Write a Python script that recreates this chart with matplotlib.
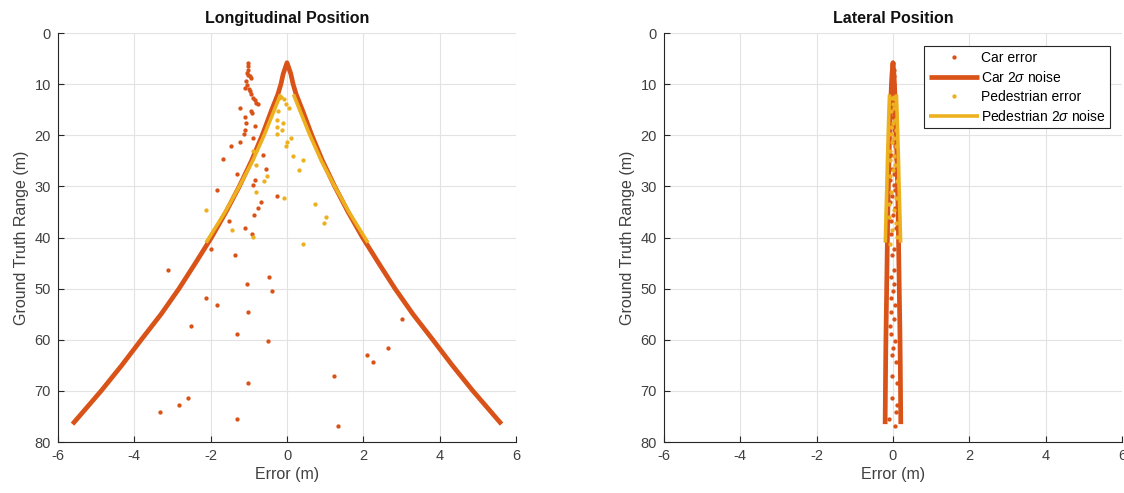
import numpy as np
import matplotlib
matplotlib.use("Agg")
import matplotlib.pyplot as plt

plt.rcParams['font.family'] = ['Liberation Sans', 'DejaVu Sans']
plt.rcParams['mathtext.fontset'] = 'custom'
plt.rcParams['mathtext.rm'] = 'Liberation Sans'
plt.rcParams['mathtext.it'] = 'Liberation Sans:italic'
plt.rcParams['axes.unicode_minus'] = False

CAR = '#D95319'
PED = '#EDB120'

# car detections: ground truth range (m), longitudinal / lateral error (m)
car_range = [5.84, 6.49, 7.14, 7.79, 8.12, 8.44, 8.77, 9.42, 10.07, 10.72,
             11.0, 11.37, 12.01, 12.66, 13.19, 13.64, 13.96, 14.74, 15.26, 15.59,
             16.43, 17.54, 18.25, 19.03, 19.68, 20.46, 21.24, 22.09, 23.84, 24.68,
             26.57, 27.61, 28.65, 29.75, 30.79, 31.90, 33.13, 34.30, 35.54, 36.77,
             38.07, 39.30, 42.2, 43.5, 46.3, 47.7, 49.1, 50.5, 51.9, 53.2,
             54.6, 56.0, 57.4, 58.8, 60.2, 61.6, 63.0, 64.4, 67.1, 68.5,
             71.3, 72.7, 74.1, 75.5, 76.9]
car_long_err = [-1.03, -1.03, -1.01, -1.04, -1.02, -0.98, -0.94, -1.07, -1.04, -1.09,
                -1.00, -0.98, -0.94, -0.90, -0.85, -0.81, -0.77, -1.24, -0.94, -0.92,
                -1.09, -1.07, -0.85, -1.11, -1.13, -0.89, -1.24, -1.46, -0.63, -1.68,
                -0.56, -1.31, -0.83, -0.88, -1.83, -0.26, -0.68, -0.75, -0.87, -1.51,
                -1.09, -0.91, -1.98, -1.36, -3.13, -0.46, -1.05, -0.39, -2.13, -1.84,
                -1.03, 3.00, -2.51, -1.30, -0.51, 2.64, 2.09, 2.24, 1.22, -1.02,
                -2.60, -2.82, -3.33, -1.32, 1.34]
car_lat_err = [0.01, -0.02, 0.02, 0.0, -0.03, 0.03, 0.01, -0.02, 0.04, -0.01,
               0.02, -0.04, 0.03, 0.0, -0.03, 0.05, -0.02, 0.01, -0.05, 0.04,
               -0.01, 0.06, -0.04, 0.02, -0.06, 0.03, 0.0, 0.05, -0.05, 0.07,
               -0.03, 0.02, -0.07, 0.04, 0.06, -0.02, -0.08, 0.05, 0.01, -0.06,
               0.08, -0.04, 0.02, -0.03, 0.04, -0.05, 0.03, 0.0, -0.04, 0.06,
               -0.06, 0.02, -0.07, -0.04, 0.05, 0.0, -0.02, 0.08, -0.03, 0.11,
               -0.03, 0.10, 0.07, -0.10, 0.05]

# pedestrian detections
ped_range = [12.54, 12.67, 13.0, 13.96, 14.74, 15.26, 17.02, 17.60, 18.38, 19.03,
             19.81, 20.53, 21.31, 22.15, 23.06, 23.97, 24.88, 25.86, 26.83, 27.87,
             28.91, 31.18, 32.29, 33.46, 34.69, 35.93, 37.23, 38.59, 39.96, 41.2]
ped_long_err = [-0.16, -0.20, -0.07, -0.03, 0.04, -0.23, -0.26, -0.10, -0.27, -0.13,
                -0.25, 0.10, -0.01, -0.02, -0.90, 0.15, 0.43, -0.81, 0.31, -0.53,
                -0.60, -0.80, -0.09, 0.73, -2.11, 1.02, 0.96, -1.43, -0.88, 0.43]
ped_lat_err = [0.02, -0.03, 0.05, -0.01, 0.03, -0.05, 0.06, 0.0, -0.04, 0.07,
               -0.06, 0.04, -0.02, 0.08, -0.07, 0.03, -0.09, 0.06, 0.01, -0.08,
               0.10, -0.05, 0.09, -0.10, 0.04, -0.11, 0.07, -0.03, 0.11, -0.09]

# 2-sigma noise envelopes
car_sig_range = [5.8, 8, 10, 12, 15, 20, 25, 30, 35, 40, 45, 50, 55, 60, 65, 70, 76.5]
car_long_sig = [0.0, 0.10, 0.16, 0.24, 0.40, 0.65, 0.93, 1.25, 1.60, 1.98, 2.40,
                2.83, 3.30, 3.82, 4.33, 4.87, 5.62]
car_lat_sig = [0.0, 0.025, 0.04, 0.05, 0.065, 0.09, 0.105, 0.12, 0.135, 0.145,
               0.155, 0.165, 0.175, 0.185, 0.192, 0.198, 0.205]
ped_sig_range = [12, 15, 20, 25, 30, 35, 41]
ped_long_sig = [0.17, 0.33, 0.60, 0.90, 1.25, 1.62, 2.12]
ped_lat_sig = [0.09, 0.105, 0.125, 0.145, 0.16, 0.18, 0.20]

xticks = [-6, -4, -2, 0, 2, 4, 6]
yticks = [0, 10, 20, 30, 40, 50, 60, 70, 80]


def envelope(rng, sig, joined=True):
    rng = np.asarray(rng, dtype=float)
    sig = np.asarray(sig, dtype=float)
    if joined:
        x = np.concatenate([-sig[::-1], sig])
        y = np.concatenate([rng[::-1], rng])
    else:
        x = np.concatenate([-sig[::-1], [np.nan], sig])
        y = np.concatenate([rng[::-1], [np.nan], rng])
    return x, y


fig = plt.figure(figsize=(11.24, 4.93), dpi=100)
ax1 = fig.add_axes([0.0516, 0.1034, 0.4075, 0.8296])
ax2 = fig.add_axes([0.5907, 0.1034, 0.4075, 0.8296])

panels = [
    (ax1, 'Longitudinal Position', car_long_err, car_long_sig, ped_long_err, ped_long_sig),
    (ax2, 'Lateral Position', car_lat_err, car_lat_sig, ped_lat_err, ped_lat_sig),
]

for ax, title, c_err, c_sig, p_err, p_sig in panels:
    ax.plot(c_err, car_range, 'o', color=CAR, ms=3.1, mew=0, label='Car error')
    x, y = envelope(car_sig_range, c_sig)
    ax.plot(x, y, color=CAR, lw=3.4, solid_capstyle='butt', label=r'Car 2$\sigma$ noise')
    ax.plot(p_err, ped_range, 'o', color=PED, ms=3.1, mew=0, label='Pedestrian error')
    x, y = envelope(ped_sig_range, p_sig, joined=False)
    ax.plot(x, y, color=PED, lw=2.6, solid_capstyle='butt', label=r'Pedestrian 2$\sigma$ noise')

    ax.set_xlim(-6, 6)
    ax.set_ylim(80, 0)
    ax.set_xticks(xticks)
    ax.set_yticks(yticks)
    ax.grid(True, color='#e3e3e3', lw=0.8)
    ax.set_axisbelow(True)
    for s in ('top', 'right'):
        ax.spines[s].set_visible(False)
    for s in ('left', 'bottom'):
        ax.spines[s].set_color('#262626')
        ax.spines[s].set_linewidth(0.8)
    ax.tick_params(direction='in', length=4, width=0.8, color='#262626',
                   labelcolor='#404040', labelsize=10.5, pad=5)
    ax.set_title(title, fontsize=11.5, fontweight='bold', color='#111111', pad=7)
    ax.set_xlabel('Error (m)', fontsize=11.5, color='#404040', labelpad=3)
    ax.set_ylabel('Ground Truth Range (m)', fontsize=11.5, color='#404040', labelpad=4)

leg = ax2.legend(loc='upper right', bbox_to_anchor=(0.974, 0.968), fontsize=10,
                 frameon=True, fancybox=False, framealpha=1, edgecolor='#262626',
                 handlelength=3.6, handletextpad=0.1, labelspacing=0.35,
                 borderpad=0.35, borderaxespad=0, numpoints=1, markerscale=1.0)
leg.get_frame().set_linewidth(0.8)

fig.savefig('out.png', dpi=100)
